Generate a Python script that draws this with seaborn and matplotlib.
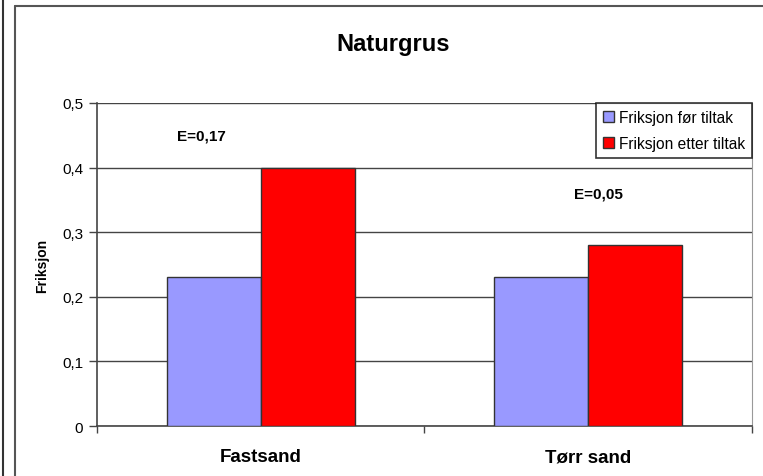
import numpy as np
import pandas as pd
import matplotlib
matplotlib.use('Agg')
import matplotlib.pyplot as plt
from matplotlib.lines import Line2D
import seaborn as sns

# data
underlag = ['Fastsand', 'Tørr sand']
for_tiltak = [0.23, 0.23]
etter_tiltak = [0.40, 0.28]
serie_navn = ['Friksjon før tiltak', 'Friksjon etter tiltak']
e_tekst = ['E=0,17', 'E=0,05']
e_pos = [0.45, 0.36]
yticks = [0, 0.1, 0.2, 0.3, 0.4, 0.5]
ytick_labels = ['0', '0,1', '0,2', '0,3', '0,4', '0,5']

df = pd.DataFrame({
    'underlag': underlag * 2,
    'friksjon': for_tiltak + etter_tiltak,
    'serie': [serie_navn[0]] * 2 + [serie_navn[1]] * 2,
})

sns.set_style('white')
plt.rcParams['font.family'] = ['Liberation Sans', 'DejaVu Sans']
plt.rcParams['text.color'] = 'black'
plt.rcParams['axes.labelcolor'] = 'black'

fig = plt.figure(figsize=(7.63, 4.77), dpi=100)
ax = fig.add_axes([0.1271, 0.1048, 0.8585, 0.6772])

sns.barplot(data=df, x='underlag', y='friksjon', hue='serie', ax=ax,
            palette=['#9999ff', '#ff0000'], width=0.574, edgecolor='#333333',
            linewidth=1, saturation=1, zorder=3)

ax.set_xlim(-0.5, 1.5)
ax.set_ylim(0, 0.5)
ax.set_yticks(yticks)
ax.set_yticklabels(ytick_labels, fontsize=11)
ax.yaxis.grid(True, color='#444444', lw=1)
ax.set_axisbelow(True)
ax.tick_params(axis='y', direction='out', length=6, width=1, color='#444444', labelcolor='black',
               left=True, pad=4)
ax.tick_params(axis='x', which='major', length=0, labelsize=13.5, labelcolor='black', pad=16)
for lab in ax.get_xticklabels():
    lab.set_fontweight('bold')
ax.set_xticks([-0.5, 0.5, 1.5], minor=True)
ax.tick_params(axis='x', which='minor', direction='out', length=5, width=1, color='#444444', bottom=True)

ax.set_xlabel('')
ax.set_ylabel('Friksjon', fontsize=10, fontweight='bold', labelpad=9)

for side in ['left', 'bottom']:
    ax.spines[side].set_color('#444444')
    ax.spines[side].set_linewidth(1.2)
ax.spines['top'].set_visible(False)
ax.spines['right'].set_color('#999999')

e_dx = [-0.18, 0.03]
for i, (t, y) in enumerate(zip(e_tekst, e_pos)):
    ax.text(i + e_dx[i], y, t, fontsize=11, fontweight='bold', ha='center', va='center')

leg = ax.legend(loc='upper right', bbox_to_anchor=(1.0, 1.0), fontsize=11.2, frameon=True,
                fancybox=False, edgecolor='black', handlelength=0.7, handleheight=0.7,
                handletextpad=0.3, borderpad=0.45, labelspacing=0.7, borderaxespad=0)
leg.get_frame().set_linewidth(1.2)

fig.suptitle('Naturgrus', x=0.515, y=0.93, fontsize=17, fontweight='bold')

# outer frames of the chart
fig.add_artist(Line2D([0.0045, 0.0045], [0, 1], transform=fig.transFigure, color='#333333', lw=1.5))
fig.add_artist(Line2D([0.0197, 0.0197], [0, 0.985], transform=fig.transFigure, color='#555555', lw=1.5))
fig.add_artist(Line2D([0.0197, 1.0], [0.985, 0.985], transform=fig.transFigure, color='#555555', lw=1.5))

fig.savefig('out.png', dpi=100)
